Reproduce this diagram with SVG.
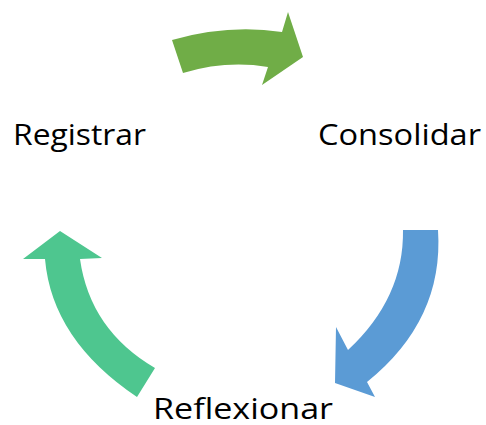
<svg xmlns="http://www.w3.org/2000/svg" width="486" height="425" viewBox="0 0 486 425">
<style>
.lbl{font-family:"Open Sans","Noto Sans","Liberation Sans",sans-serif;font-size:30px;fill:#000}
</style>
<rect width="486" height="425" fill="#fff"/>
<g id="connectors">
<path id="arrow-top" fill="#70AD47" d="M172,40 Q228,24 282,32 L288,12 L303,57 L262,85 L268,67 Q226,60 183,73 Z"/>
<path id="arrow-right" fill="#5B9BD5" d="M438,230 Q444,320 367,382 L375,397 L335,383 L336,327 L348,350 Q404,298 403,230 Z"/>
<path id="arrow-left" fill="#4EC68F" d="M137,397 Q52,340 45,259 L23,259 L60,231 L102,258 L80,259 Q90,330 155,368 Z"/>
</g>
<g id="node-registrar"><text class="lbl" x="13" y="145" textLength="133" lengthAdjust="spacingAndGlyphs">Registrar</text></g>
<g id="node-consolidar"><text class="lbl" x="318" y="145" textLength="163" lengthAdjust="spacingAndGlyphs">Consolidar</text></g>
<g id="node-reflexionar"><text class="lbl" x="153" y="419" textLength="180" lengthAdjust="spacingAndGlyphs">Reflexionar</text></g>
</svg>
